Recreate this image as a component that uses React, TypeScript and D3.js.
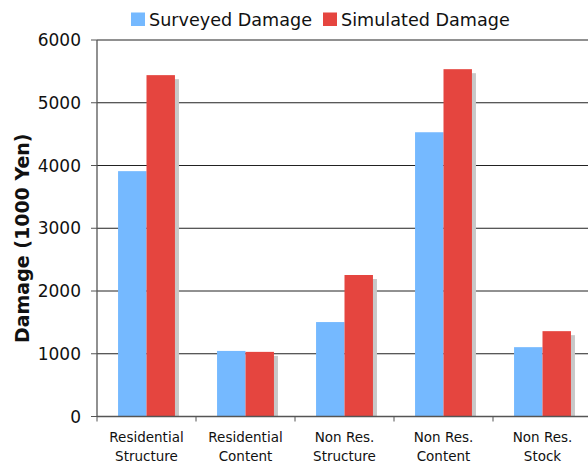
import React from "react";
import * as d3 from "d3";

const categories = [
  ["Residential", "Structure"],
  ["Residential", "Content"],
  ["Non Res.", "Structure"],
  ["Non Res.", "Content"],
  ["Non Res.", "Stock"],
];
const surveyed = [3910, 1045, 1505, 4530, 1105];
const simulated = [5440, 1030, 2255, 5535, 1360];
const yTicks = [0, 1000, 2000, 3000, 4000, 5000, 6000];
const seriesNames = ["Surveyed Damage", "Simulated Damage"];
const colors = ["#75b9ff", "#e5453f"];

const W = 588;
const H = 467;
const left = 97;
const right = 592;
const top = 40;
const bottom = 416.5;
const font = "'DejaVu Sans', Verdana, sans-serif";

export default function App() {
  const x = d3
    .scaleBand<number>()
    .domain(categories.map((_, i) => i))
    .range([left, right]);
  const inner = d3
    .scaleBand<number>()
    .domain([0, 1])
    .range([0, x.bandwidth()])
    .paddingOuter(0.74)
    .paddingInner(0);
  const y = d3.scaleLinear().domain([0, 6000]).range([bottom, top]);
  const series = [surveyed, simulated];

  return (
    <svg
      width={W}
      height={H}
      style={{ position: "absolute", left: 0, top: 0, background: "#fff" }}
    >
      {/* gridlines */}
      {yTicks.map((t) => (
        <line
          key={"g" + t}
          x1={left}
          x2={W}
          y1={y(t)}
          y2={y(t)}
          stroke={t === 0 ? "#555" : "#222"}
          strokeWidth={1}
        />
      ))}
      {/* y ticks and labels */}
      {yTicks.map((t) => (
        <g key={"t" + t}>
          <line x1={91} x2={left} y1={y(t)} y2={y(t)} stroke="#555" />
          <text
            x={81}
            y={y(t)}
            dy="0.36em"
            textAnchor="end"
            fontFamily={font}
            fontSize={17}
            fill="#111"
          >
            {t}
          </text>
        </g>
      ))}
      {/* bars with drop shadow */}
      {categories.map((_, i) => (
        <g key={"c" + i} transform={`translate(${x(i)},0)`}>
          <rect
            x={(inner(1) as number) + 4}
            y={y(simulated[i]) + 4}
            width={inner.bandwidth()}
            height={bottom - y(simulated[i]) - 4}
            fill="#c8c8c8"
          />
          {series.map((vals, s) => (
            <rect
              key={"b" + s}
              x={inner(s)}
              y={y(vals[i])}
              width={inner.bandwidth()}
              height={bottom - y(vals[i])}
              fill={colors[s]}
            />
          ))}
        </g>
      ))}
      {/* axes lines */}
      <line x1={left} x2={left} y1={top} y2={bottom} stroke="#555" strokeWidth={1.3} />
      <line x1={left} x2={W} y1={bottom} y2={bottom} stroke="#555" strokeWidth={1.3} />
      {/* x ticks */}
      {categories.map((_, i) => (
        <line
          key={"xt" + i}
          x1={x(i)}
          x2={x(i)}
          y1={bottom}
          y2={bottom + 5}
          stroke="#555"
        />
      ))}
      {/* category labels */}
      {categories.map((lines, i) => (
        <text
          key={"xl" + i}
          x={(x(i) as number) + x.bandwidth() / 2}
          textAnchor="middle"
          fontFamily={font}
          fontSize={13.5}
          fill="#111"
        >
          {lines.map((l, j) => (
            <tspan key={j} x={(x(i) as number) + x.bandwidth() / 2} y={441.5 + j * 19}>
              {l}
            </tspan>
          ))}
        </text>
      ))}
      {/* y axis title */}
      <text
        transform={`translate(29,${(top + bottom) / 2 + 10}) rotate(-90)`}
        textAnchor="middle"
        fontFamily={font}
        fontWeight="bold"
        fontSize={19}
        fill="#111"
      >
        Damage (1000 Yen)
      </text>
      {/* legend */}
      {seriesNames.map((name, s) => {
        const lx = s === 0 ? 131 : 323;
        return (
          <g key={"lg" + s}>
            <rect x={lx} y={12.5} width={14} height={13.5} fill={colors[s]} />
            <text
              x={lx + 18}
              y={26}
              fontFamily={font}
              fontSize={17.6}
              fill="#111"
            >
              {name}
            </text>
          </g>
        );
      })}
    </svg>
  );
}
